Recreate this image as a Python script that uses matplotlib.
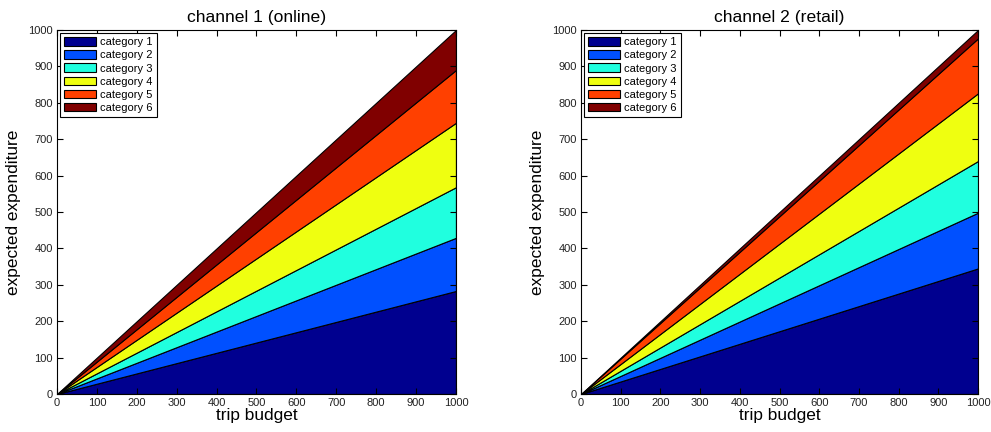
import numpy as np
import matplotlib.pyplot as plt

plt.rcParams['font.family'] = ['Liberation Sans', 'DejaVu Sans']

budget = [0, 1000]
categories = ['category 1', 'category 2', 'category 3', 'category 4', 'category 5', 'category 6']
# expected expenditure per category at budget 0 and 1000
online = [[0, 283], [0, 146], [0, 139], [0, 177], [0, 145], [0, 110]]
retail = [[0, 345], [0, 153], [0, 142], [0, 186], [0, 151], [0, 23]]
colors = ['#00008f', '#0050ff', '#20ffdf', '#efff10', '#ff4000', '#800000']
ticks = np.arange(0, 1001, 100)

fig = plt.figure(figsize=(9.91, 4.32), dpi=100)
ax1 = fig.add_axes([0.0575, 0.088, 0.4026, 0.8426])
ax2 = fig.add_axes([0.5863, 0.088, 0.4006, 0.8426])

for ax, data, title in [(ax1, online, 'channel 1 (online)'), (ax2, retail, 'channel 2 (retail)')]:
    ax.stackplot(budget, *data, colors=colors, labels=categories,
                 edgecolor='black', linewidth=0.8)
    ax.set_xlim(0, 1000)
    ax.set_ylim(0, 1000)
    ax.set_xticks(ticks)
    ax.set_yticks(ticks)
    ax.tick_params(direction='in', top=True, right=True, labelsize=8, length=4,
                   pad=3, labelcolor='#222222')
    ax.set_xlabel('trip budget', fontsize=12.4, labelpad=0)
    ax.set_ylabel('expected expenditure', fontsize=12.4, labelpad=5)
    ax.set_title(title, fontsize=12.6, pad=6)
    leg = ax.legend(loc='upper left', fontsize=8, fancybox=False, framealpha=1,
                    edgecolor='black', borderaxespad=0.3, handlelength=2.9,
                    handleheight=0.8, labelspacing=0.27, borderpad=0.35, handletextpad=0.35)
    leg.get_frame().set_linewidth(0.8)

fig.savefig('out.png', dpi=100)
